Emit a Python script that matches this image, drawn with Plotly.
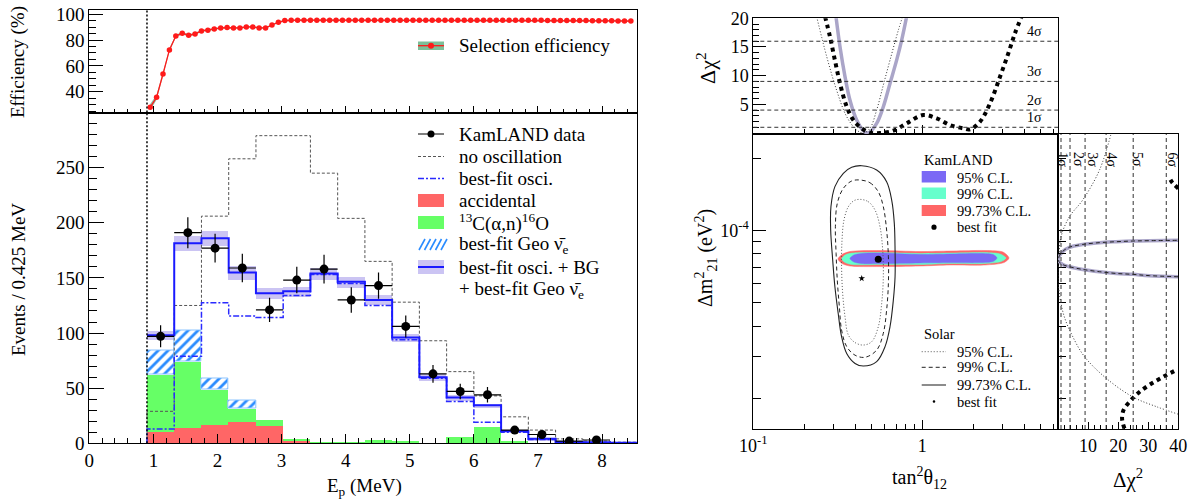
import numpy as np
import plotly.graph_objects as go

W, H = 1191, 503
SERIF = "Liberation Serif"

# ---------------- selection efficiency (top left) ----------------
eff_energy = [0.95, 1.05, 1.15, 1.25, 1.35, 1.45, 1.55, 1.65, 1.75, 1.85,
              1.95, 2.05, 2.15, 2.25, 2.35, 2.45, 2.55, 2.65, 2.75, 2.85,
              2.95, 3.05, 3.15, 3.25, 3.35, 3.45, 3.55, 3.65, 3.75, 3.85,
              3.95, 4.05, 4.15, 4.25, 4.35, 4.45, 4.55, 4.65, 4.75, 4.85,
              4.95, 5.05, 5.15, 5.25, 5.35, 5.45, 5.55, 5.65, 5.75, 5.85,
              5.95, 6.05, 6.15, 6.25, 6.35, 6.45, 6.55, 6.65, 6.75, 6.85,
              6.95, 7.05, 7.15, 7.25, 7.35, 7.45, 7.55, 7.65, 7.75, 7.85,
              7.95, 8.05, 8.15, 8.25, 8.35, 8.45]
eff_value = [27.9, 35.7, 53.7, 72.4, 83.2, 85.3, 83.7, 84.8, 87.1, 87.6,
             88.6, 89.4, 89.7, 89.4, 89.4, 90.2, 90.2, 89.4, 89.4, 91.7,
             93.8, 95.1, 95.4, 95.4, 95.4, 95.4, 95.4, 95.4, 95.4, 95.4,
             95.4, 95.4, 95.4, 95.4, 95.4, 95.4, 95.4, 95.4, 95.4, 95.4,
             95.4, 95.4, 95.4, 95.4, 95.4, 95.4, 95.4, 95.4, 95.4, 95.4,
             95.4, 95.4, 95.3, 95.3, 95.3, 95.3, 95.3, 95.3, 95.3, 95.3,
             95.3, 95.3, 95.2, 95.2, 95.2, 95.2, 95.1, 95.1, 95.1, 95.0,
             95.0, 95.0, 94.9, 94.8, 94.8, 94.7]
eff_err = [2.5, 2.0, 1.6, 1.2, 1.0, 0.9, 0.8, 0.8, 0.7, 0.7,
           0.6, 0.6, 0.6, 0.6, 0.6, 0.6, 0.6, 0.6, 0.6, 0.6,
           0.6, 0.6, 0.6, 0.6, 0.6, 0.6, 0.6, 0.6, 0.6, 0.6,
           0.6, 0.6, 0.6, 0.6, 0.6, 0.6, 0.6, 0.6, 0.6, 0.6,
           0.6, 0.6, 0.6, 0.6, 0.6, 0.6, 0.6, 0.6, 0.6, 0.6,
           0.6, 0.6, 0.6, 0.6, 0.6, 0.6, 0.6, 0.6, 0.6, 0.6,
           0.6, 0.6, 0.6, 0.6, 0.6, 0.6, 0.6, 0.6, 0.6, 0.6,
           0.6, 0.6, 0.6, 0.6, 0.6, 0.6]

THRESHOLD = 0.9  # analysis threshold (MeV)

# ---------------- prompt energy spectrum (bottom left) ----------------
bin_edges = [0.9, 1.325, 1.75, 2.175, 2.6, 3.025, 3.45, 3.875, 4.3, 4.725,
             5.15, 5.575, 6.0, 6.425, 6.85, 7.275, 7.7, 8.125, 8.55]
data_energy = [1.1125, 1.5375, 1.9625, 2.3875, 2.8125, 3.2375, 3.6625, 4.0875,
               4.5125, 4.9375, 5.3625, 5.7875, 6.2125, 6.6375, 7.0625, 7.4875, 7.9125]
data_counts = [97, 191, 177, 159, 121, 148, 158, 130, 143, 106, 63, 47, 44, 12, 8, 2, 3]
data_err = [10, 14, 13, 13, 11, 12, 13, 11.5, 12, 10, 8, 7, 7, 3.5, 3, 1.5, 2]
BIN_HALF = 0.2125

no_osc = [29, 125, 206, 258, 279, 279, 245, 204, 165, 128, 93, 65, 43, 24, 12, 4, 2, 1]
best_fit_osc = [13, 79, 127.5, 115.5, 114, 134, 153, 145, 125, 94, 59, 38, 19, 10, 3.5, 1, 0.5, 0.3]
best_fit_total = [98, 181.5, 186, 155, 136, 138, 154, 146.6, 130, 96, 60, 41.5, 34.5, 11.2, 4.2, 1.2, 1, 0.5]
total_err = [4, 7, 7, 6, 5, 4.5, 5, 5, 4.5, 3.5, 3, 2.5, 2, 1.2, 0.8, 0.5, 0.4, 0.3]
accidental = [10.3, 14.2, 17.3, 19.4, 16.4, 2.7, 0.6, 0.4, 0.3, 0.2, 0.2, 0.2, 0.1, 0.1, 0.1, 0, 0, 0]
c13_alpha_n = [52, 60, 31.5, 12, 5, 1.5, 0.5, 0.5, 3, 2, 0.5, 6, 14.7, 2, 0.5, 0.2, 0.2, 0.2]
geo_nu = [22.2, 28.2, 10, 7.5, 0, 0, 0, 0, 0, 0, 0, 0, 0, 0, 0, 0, 0, 0]

# ---------------- oscillation parameters (right) ----------------
kl_9973_tan2 = [0.317, 0.335, 0.373, 0.562, 0.969, 1.458, 2.35, 3.003, 3.258,
                3.043, 2.35, 1.458, 0.969, 0.562, 0.373, 0.335]
kl_9973_dm2 = [7.62e-5, 7.96e-5, 8.19e-5, 8.27e-5, 8.19e-5, 8.23e-5, 8.27e-5, 8.15e-5, 7.70e-5,
               7.37e-5, 7.20e-5, 7.20e-5, 7.13e-5, 7.09e-5, 7.13e-5, 7.30e-5]
kl_99_tan2 = [0.333, 0.349, 0.384, 0.562, 0.969, 1.458, 2.35, 2.883, 3.128,
              2.923, 2.35, 1.458, 0.969, 0.562, 0.384, 0.349]
kl_99_dm2 = [7.62e-5, 7.92e-5, 8.07e-5, 8.11e-5, 8.04e-5, 8.07e-5, 8.11e-5, 8.00e-5, 7.70e-5,
             7.44e-5, 7.30e-5, 7.30e-5, 7.23e-5, 7.23e-5, 7.23e-5, 7.37e-5]
kl_95_tan2 = [0.373, 0.394, 0.44, 0.562, 0.969, 1.458, 2.195, 2.62, 2.767,
              2.62, 2.195, 1.458, 0.969, 0.562, 0.44, 0.394]
kl_95_dm2 = [7.66e-5, 7.92e-5, 8.04e-5, 8.07e-5, 7.96e-5, 8.00e-5, 8.04e-5, 7.96e-5, 7.70e-5,
             7.44e-5, 7.37e-5, 7.37e-5, 7.34e-5, 7.30e-5, 7.30e-5, 7.41e-5]
kl_best = (0.549, 7.60e-5)

solar_9973_tan2 = [0.438, 0.537, 0.615, 0.659, 0.683, 0.690, 0.690, 0.674, 0.644, 0.602, 0.537, 0.448,
                   0.400, 0.357, 0.333, 0.318, 0.304, 0.295, 0.287, 0.288, 0.304, 0.341, 0.382]
solar_9973_dm2 = [1.866e-4, 1.790e-4, 1.601e-4, 1.342e-4, 1.073e-4, 8.31e-5, 6.43e-5, 5.14e-5, 3.98e-5,
                  3.29e-5, 2.85e-5, 2.73e-5, 2.80e-5, 3.08e-5, 3.62e-5, 4.52e-5, 5.84e-5, 7.55e-5,
                  1.007e-4, 1.259e-4, 1.526e-4, 1.734e-4, 1.837e-4]
solar_99_tan2 = [0.428, 0.490, 0.549, 0.588, 0.615, 0.630, 0.630, 0.615, 0.588, 0.537, 0.458,
                 0.400, 0.357, 0.333, 0.323, 0.314, 0.309, 0.306, 0.314, 0.341, 0.382]
solar_99_dm2 = [1.627e-4, 1.585e-4, 1.454e-4, 1.259e-4, 1.007e-4, 7.79e-5, 6.03e-5, 4.67e-5, 3.74e-5,
                3.18e-5, 2.97e-5, 3.03e-5, 3.29e-5, 3.86e-5, 4.83e-5, 6.23e-5, 8.05e-5, 1.039e-4,
                1.300e-4, 1.502e-4, 1.611e-4]
solar_95_tan2 = [0.428, 0.479, 0.525, 0.562, 0.583, 0.588, 0.575, 0.549, 0.502, 0.448,
                 0.400, 0.365, 0.349, 0.338, 0.333, 0.335, 0.344, 0.365, 0.394]
solar_95_dm2 = [1.351e-4, 1.321e-4, 1.220e-4, 1.039e-4, 8.31e-5, 6.43e-5, 4.98e-5, 3.98e-5, 3.45e-5,
                3.34e-5, 3.42e-5, 3.68e-5, 4.38e-5, 5.48e-5, 7.08e-5, 9.15e-5, 1.108e-4, 1.259e-4,
                1.334e-4]
solar_best = (0.438, 6.33e-5)

# Δχ² profiles versus tan²θ12 (top)
comb_tan2 = [0.3085, 0.326, 0.349, 0.373, 0.409, 0.448, 0.479, 0.537, 0.588, 0.644, 0.705, 0.755, 0.808]
comb_chi2_t = [20.3, 15.0, 9.8, 5.75, 2.26, 0.4, 0.0, 1.68, 4.59, 8.65, 12.7, 16.2, 20.3]
solar_tan2 = [0.237, 0.272, 0.311, 0.357, 0.409, 0.448, 0.490, 0.537, 0.588, 0.644, 0.721, 0.765]
solar_chi2_t = [20.3, 13.3, 7.49, 2.85, 0.52, 0.0, 0.82, 4.0, 8.36, 12.7, 17.9, 20.3]
kl_tan2 = [0.2657, 0.2843, 0.304, 0.326, 0.357, 0.391, 0.4376, 0.490, 0.562, 0.674, 0.808,
           1.014, 1.216, 1.458, 1.749, 1.915, 2.195, 2.516, 2.883, 3.229, 3.536, 3.873]
kl_chi2_t = [20.3, 16.8, 12.7, 8.65, 4.59, 2.26, 0.81, 0.06, 0.0, 0.4, 1.68,
             3.14, 2.56, 1.39, 0.81, 0.64, 1.97, 5.17, 9.81, 13.9, 17.4, 20.3]

# Δχ² profiles versus Δm²21 (right)
comb_dm2 = [6.43e-5, 6.50e-5, 6.58e-5, 6.64e-5, 6.75e-5, 6.90e-5, 7.08e-5, 7.24e-5, 7.55e-5,
            8.18e-5, 8.53e-5, 8.77e-5, 8.92e-5, 9.00e-5, 9.06e-5, 9.09e-5, 9.12e-5]
comb_chi2_m = [40, 30.4, 24.9, 19.3, 13.8, 8.2, 3.8, 1.5, 0, 1.5, 3.8, 8.2, 13.8, 19.3, 24.9, 30.4, 40]
solar_dm2 = [1.72e-5, 1.85e-5, 2.03e-5, 2.43e-5, 2.99e-5, 3.62e-5, 4.38e-5, 5.31e-5, 6.33e-5,
             7.79e-5, 9.44e-5, 1.144e-4, 1.342e-4, 1.79e-4, 2.55e-4]
solar_chi2_m = [40, 32.7, 24.9, 16.0, 8.8, 4.9, 2.1, 0.6, 0, 0.3, 1.0, 3.8, 8.2, 13.8, 17.7]
kl_low_dm2 = [1.50e-5, 1.65e-5, 1.79e-5, 1.94e-5, 2.10e-5, 2.28e-5, 2.46e-5, 2.65e-5]
kl_low_chi2 = [22.1, 21.3, 21.8, 23.8, 26.5, 30.4, 34.9, 39.9]
kl_high_dm2 = [1.50e-4, 1.55e-4, 1.60e-4, 1.65e-4]
kl_high_chi2 = [40, 38.8, 37.8, 37.2]

sigma_levels = [1, 4, 9, 16, 25, 36]
sigma_labels = ["1σ", "2σ", "3σ", "4σ", "5σ", "6σ"]
side_label_pos = [1.5, 6.9, 11.5, 17.7, 26.5, 38.0]
TOP_LABEL_TAN2 = 4.6

# ---------------- colours ----------------
RED = "#ff6666"
GREEN = "#66ff66"
BLUE = "#1a1aff"
LAVENDER = "#cbc4f3"
KL95 = "#7b69f5"
KL99 = "#66ffcc"
KL9973 = "#ff6666"
PROFILE = "#aaa5c8"


def px(x):
    return x / W


def py(y):
    return 1 - y / H


def closed(a):
    return list(a) + [a[0]]


fig = go.Figure()

# ---- efficiency ----
e_lo = np.array(eff_value) - np.array(eff_err)
e_hi = np.array(eff_value) + np.array(eff_err)
fig.add_trace(go.Scatter(x=eff_energy, y=e_lo, mode="lines", line=dict(width=0),
                         xaxis="x", yaxis="y", hoverinfo="skip"))
fig.add_trace(go.Scatter(x=eff_energy, y=e_hi, mode="lines", line=dict(width=0), fill="tonexty",
                         fillcolor="rgba(46,139,87,0.55)", xaxis="x", yaxis="y", hoverinfo="skip"))
fig.add_trace(go.Scatter(x=eff_energy, y=eff_value, mode="lines+markers",
                         line=dict(color="#ff1a1a", width=1.3),
                         marker=dict(color="#ff1a1a", size=5.5), xaxis="x", yaxis="y"))

# ---- spectrum ----
edges = np.array(bin_edges)
centers = (edges[:-1] + edges[1:]) / 2
widths = edges[1:] - edges[:-1]
tot = np.array(best_fit_total)
terr = np.array(total_err)
acc = np.array(accidental)
c13 = np.array(c13_alpha_n)
geo = np.array(geo_nu)

fig.add_trace(go.Bar(x=centers, y=2 * terr, base=tot - terr, width=widths,
                     marker=dict(color=LAVENDER, line=dict(width=0)), xaxis="x2", yaxis="y2"))
fig.add_trace(go.Bar(x=centers, y=acc, base=np.zeros_like(acc), width=widths,
                     marker=dict(color=RED, line=dict(width=0)), xaxis="x2", yaxis="y2"))
fig.add_trace(go.Bar(x=centers, y=c13, base=acc, width=widths,
                     marker=dict(color=GREEN, line=dict(width=0)), xaxis="x2", yaxis="y2"))
gmask = geo > 0
fig.add_trace(go.Bar(x=centers[gmask], y=geo[gmask], base=(acc + c13)[gmask], width=widths[gmask],
                     marker=dict(color="white",
                                 pattern=dict(shape="/", fillmode="replace", fgcolor="#2a8cff",
                                              bgcolor="white", size=7, solidity=0.4),
                                 line=dict(color="#8cc4ff", width=1)),
                     xaxis="x2", yaxis="y2"))


def step(values):
    xs = [bin_edges[0]] + list(bin_edges)
    ys = [0] + list(values) + [values[-1]]
    return xs, ys


sx, sy = step(no_osc)
fig.add_trace(go.Scatter(x=sx, y=sy, mode="lines", line_shape="hv",
                         line=dict(color="#555555", width=1, dash="3px,2px"), xaxis="x2", yaxis="y2"))
sx, sy = step(best_fit_osc)
fig.add_trace(go.Scatter(x=sx, y=sy, mode="lines", line_shape="hv",
                         line=dict(color="#2a2aff", width=1.5, dash="6px,2px,2px,2px"),
                         xaxis="x2", yaxis="y2"))
sx, sy = step(best_fit_total)
fig.add_trace(go.Scatter(x=sx[1:], y=sy[1:], mode="lines", line_shape="hv",
                         line=dict(color=BLUE, width=2), xaxis="x2", yaxis="y2"))
fig.add_trace(go.Scatter(x=data_energy, y=data_counts, mode="markers",
                         marker=dict(color="black", size=9),
                         error_x=dict(type="constant", value=BIN_HALF, color="black", thickness=1.2, width=0),
                         error_y=dict(type="data", array=data_err, color="black", thickness=1.2, width=0),
                         xaxis="x2", yaxis="y2"))

# ---- KamLAND allowed regions ----
for t2, dm, col in [(kl_9973_tan2, kl_9973_dm2, KL9973), (kl_99_tan2, kl_99_dm2, KL99),
                    (kl_95_tan2, kl_95_dm2, KL95)]:
    fig.add_trace(go.Scatter(x=closed(t2), y=closed(dm), mode="lines", fill="toself", fillcolor=col,
                             line=dict(color=col, width=0.5, shape="spline", smoothing=0.8),
                             xaxis="x3", yaxis="y3"))

# ---- solar allowed regions ----
for t2, dm, st in [(solar_95_tan2, solar_95_dm2, dict(color="#555555", width=1, dash="1px,2px")),
                   (solar_99_tan2, solar_99_dm2, dict(color="#222222", width=1, dash="4px,3px")),
                   (solar_9973_tan2, solar_9973_dm2, dict(color="#222222", width=1.1))]:
    fig.add_trace(go.Scatter(x=closed(t2), y=closed(dm), mode="lines",
                             line=dict(shape="spline", smoothing=1.0, **st), xaxis="x3", yaxis="y3"))

fig.add_trace(go.Scatter(x=[kl_best[0]], y=[kl_best[1]], mode="markers",
                         marker=dict(color="black", size=7), xaxis="x3", yaxis="y3"))
fig.add_trace(go.Scatter(x=[solar_best[0]], y=[solar_best[1]], mode="markers",
                         marker=dict(color="black", size=5, symbol="star"), xaxis="x3", yaxis="y3"))

# ---- Δχ² vs tan²θ12 ----
fig.add_trace(go.Scatter(x=comb_tan2, y=comb_chi2_t, mode="lines",
                         line=dict(color=PROFILE, width=3.5, shape="spline"), xaxis="x4", yaxis="y4"))
fig.add_trace(go.Scatter(x=solar_tan2, y=solar_chi2_t, mode="lines",
                         line=dict(color="#333333", width=1, dash="1px,2px", shape="spline"),
                         xaxis="x4", yaxis="y4"))
fig.add_trace(go.Scatter(x=kl_tan2, y=kl_chi2_t, mode="lines",
                         line=dict(color="black", width=4, dash="4px,4px", shape="spline"),
                         xaxis="x4", yaxis="y4"))

# ---- Δχ² vs Δm²21 ----
fig.add_trace(go.Scatter(x=comb_chi2_m, y=comb_dm2, mode="lines",
                         line=dict(color=PROFILE, width=3.5, shape="spline"), xaxis="x5", yaxis="y5"))
fig.add_trace(go.Scatter(x=comb_chi2_m, y=comb_dm2, mode="lines",
                         line=dict(color="#222222", width=1, dash="4px,3px", shape="spline"),
                         xaxis="x5", yaxis="y5"))
fig.add_trace(go.Scatter(x=solar_chi2_m, y=solar_dm2, mode="lines",
                         line=dict(color="#333333", width=1, dash="1px,2px", shape="spline"),
                         xaxis="x5", yaxis="y5"))
for xs, ys in [(kl_low_chi2, kl_low_dm2), (kl_high_chi2, kl_high_dm2)]:
    fig.add_trace(go.Scatter(x=xs, y=ys, mode="lines",
                             line=dict(color="black", width=4, dash="4px,4px", shape="spline"),
                             xaxis="x5", yaxis="y5"))

# ---------------- axes ----------------
TICKFONT = dict(family=SERIF, size=19, color="black")
TICKFONT_R = dict(family=SERIF, size=18, color="black")


def axis(**kw):
    base = dict(showline=True, linecolor="black", linewidth=1, mirror=True, ticks="inside",
                tickcolor="black", showgrid=False, zeroline=False, tickfont=TICKFONT,
                automargin=False)
    base.update(kw)
    return base


def minor(dtick, ticklen):
    return dict(ticks="inside", dtick=dtick, ticklen=ticklen, tickcolor="black", showgrid=False)


LEFT_X = [px(89.3), px(637.3)]
MAIN_X = [px(753.3), px(1058)]
SIDE_X = [px(1058), px(1178.3)]
MAIN_Y = [py(429), py(134)]
LOG_T2 = [-1, 0.803]
LOG_DM = [-4.826, -3.597]

fig.update_layout(
    width=W, height=H, margin=dict(l=0, r=0, t=0, b=0, autoexpand=False),
    paper_bgcolor="white", plot_bgcolor="white", showlegend=False, barmode="overlay", bargap=0,
    xaxis=axis(domain=LEFT_X, range=[0, 8.55], anchor="y", dtick=1, tick0=0, ticklen=7,
               showticklabels=False, minor=minor(0.2, 4)),
    yaxis=axis(domain=[py(112.5), py(10)], range=[23.9, 103.3], anchor="x", dtick=20, tick0=0,
               ticklen=14, minor=minor(5, 7)),
    xaxis2=axis(domain=LEFT_X, range=[0, 8.55], anchor="y2", dtick=1, tick0=0, ticklen=9,
                minor=minor(0.2, 5)),
    yaxis2=axis(domain=[py(443.3), py(112.5)], range=[0, 300], anchor="x2",
                tickmode="array", tickvals=[0, 50, 100, 150, 200, 250], ticklen=15,
                minor=dict(ticks="inside", tick0=0, dtick=10, ticklen=8, tickcolor="black")),
    xaxis3=axis(domain=MAIN_X, type="log", range=LOG_T2, anchor="y3",
                tickmode="array", tickvals=[0.1, 1], ticktext=["10<sup>-1</sup>", "1"],
                ticklen=9, tickfont=TICKFONT_R, minor=minor("D1", 5)),
    yaxis3=axis(domain=MAIN_Y, type="log", range=LOG_DM, anchor="x3",
                tickmode="array", tickvals=[1e-4], ticktext=["10<sup>-4</sup>"],
                ticklen=13, tickfont=TICKFONT_R, minor=minor("D1", 8)),
    xaxis4=axis(domain=MAIN_X, type="log", range=LOG_T2, anchor="y4",
                tickmode="array", tickvals=[0.1, 1], showticklabels=False, ticklen=9,
                minor=minor("D1", 5)),
    yaxis4=axis(domain=[py(134), py(18.3)], range=[-0.17, 20], anchor="x4",
                tickmode="array", tickvals=[5, 10, 15, 20], ticklen=13, tickfont=TICKFONT_R,
                minor=dict(ticks="inside", tick0=0, dtick=1, ticklen=6, tickcolor="black")),
    xaxis5=axis(domain=SIDE_X, range=[0, 40], anchor="y5",
                tickmode="array", tickvals=[10, 20, 30, 40], ticklen=7, tickfont=TICKFONT_R,
                minor=dict(ticks="inside", tick0=0, dtick=2, ticklen=4, tickcolor="black")),
    yaxis5=axis(domain=MAIN_Y, type="log", range=LOG_DM, anchor="x5",
                tickmode="array", tickvals=[1e-4], showticklabels=False, ticklen=13,
                minor=minor("D1", 8)),
)

shapes = []
ann = []

# threshold line through both left panels
for yr in ["y", "y2"]:
    shapes.append(dict(type="line", xref="x" if yr == "y" else "x2", yref=yr + " domain",
                       x0=THRESHOLD, x1=THRESHOLD, y0=0, y1=1,
                       line=dict(color="black", width=1.5, dash="2px,2px")))

# sigma levels
for lvl, lab, pos in zip(sigma_levels, sigma_labels, side_label_pos):
    if lvl <= 16:
        shapes.append(dict(type="line", xref="x4 domain", yref="y4", x0=0, x1=1, y0=lvl, y1=lvl,
                           line=dict(color="#333333", width=1, dash="4px,3px")))
        ann.append(dict(xref="x4", yref="y4", x=np.log10(TOP_LABEL_TAN2), y=lvl, yanchor="bottom",
                        text=lab, showarrow=False, yshift=0,
                        font=dict(family=SERIF, size=14, color="black")))
    shapes.append(dict(type="line", xref="x5", yref="y5 domain", x0=lvl, x1=lvl, y0=0, y1=1,
                       line=dict(color="#333333", width=1, dash="4px,3px")))
    ann.append(dict(xref="x5", yref="y5 domain", x=pos, y=0.945, text=lab, showarrow=False,
                    textangle=90, font=dict(family=SERIF, size=14, color="black")))


def text(x, y, s, size=19, **kw):
    d = dict(xref="paper", yref="paper", x=px(x), y=py(y), text=s, showarrow=False,
             xanchor="left", yanchor="middle", font=dict(family=SERIF, size=size, color="black"))
    d.update(kw)
    ann.append(d)


def key_line(x0, x1, y, color, width, dash="solid"):
    shapes.append(dict(type="line", xref="paper", yref="paper", x0=px(x0), x1=px(x1),
                       y0=py(y), y1=py(y), line=dict(color=color, width=width, dash=dash)))


def key_box(x0, x1, y0, y1, color):
    shapes.append(dict(type="rect", xref="paper", yref="paper", x0=px(x0), x1=px(x1),
                       y0=py(y1), y1=py(y0), fillcolor=color, line=dict(width=0)))


def key_dot(x, y, r, color="black"):
    shapes.append(dict(type="circle", xref="paper", yref="paper", x0=px(x - r), x1=px(x + r),
                       y0=py(y + r), y1=py(y - r), fillcolor=color, line=dict(width=0)))


# efficiency key
key_box(418, 444, 41.5, 50, "#7cbf98")
key_line(418, 444, 45.7, "#ff1a1a", 1.3)
key_dot(431, 45.7, 3, "#ff1a1a")
text(457, 45.5, "Selection efficiency")

# spectrum key
KX0, KX1, TX = 418, 444, 457
key_line(KX0, KX1, 134, "black", 1)
key_dot(431, 134, 3.5)
text(TX, 134, "KamLAND data")
key_line(KX0, KX1, 156.5, "#555555", 1, "3px,2px")
text(TX, 156.5, "no oscillation")
key_line(KX0, KX1, 178.5, "#2a2aff", 1.5, "6px,2px,2px,2px")
text(TX, 178.5, "best-fit osci.")
key_box(KX0, KX1, 194, 207, RED)
text(TX, 200.5, "accidental")
key_box(KX0, KX1, 216, 229, GREEN)
text(TX, 222, "<sup>13</sup>C(α,n)<sup>16</sup>O")
for k in range(5):
    x0 = KX0 + 1 + k * 5.5
    shapes.append(dict(type="line", xref="paper", yref="paper", x0=px(x0), x1=px(x0 + 6),
                       y0=py(250), y1=py(239), line=dict(color="#2a8cff", width=1.6)))
text(TX, 245, "best-fit Geo ν\u0304<sub>e</sub>")
key_box(KX0, KX1, 260, 274, LAVENDER)
key_line(KX0, KX1, 267, BLUE, 2)
text(TX, 267, "best-fit osci. + BG")
text(TX, 290, "+ best-fit Geo ν\u0304<sub>e</sub>")

# KamLAND contour key
text(921.5, 160, "KamLAND", size=14.5)
key_box(921.7, 946, 171, 182.5, KL95)
text(955, 177.5, "95% C.L.", size=14.5)
key_box(921.7, 946, 187.5, 199, KL99)
text(955, 193.5, "99% C.L.", size=14.5)
key_box(921.7, 946, 205, 216, KL9973)
text(955, 210.7, "99.73% C.L.", size=14.5)
key_dot(934, 227.2, 2.6)
text(955, 227.3, "best fit", size=14.5)

# Solar contour key
text(921.5, 334, "Solar", size=14.5)
key_line(921.7, 946, 351.7, "#555555", 1, "1px,2px")
text(955, 351.7, "95% C.L.", size=14.5)
key_line(921.7, 946, 367.3, "#222222", 1, "4px,3px")
text(955, 367.3, "99% C.L.", size=14.5)
key_line(921.7, 946, 385, "#666666", 1.5)
text(955, 385, "99.73% C.L.", size=14.5)
key_dot(934, 401.5, 1.3)
text(955, 401.7, "best fit", size=14.5)

# axis titles
text(18, 62, "Efficiency (%)", size=19, xanchor="center", textangle=-90)
text(18, 280, "Events / 0.425 MeV", size=19, xanchor="center", textangle=-90)
text(364, 487, "E<sub>p</sub> (MeV)", size=19, xanchor="center")
text(706, 68, "Δχ<sup>2</sup>", size=22, xanchor="center", textangle=-90)
text(706, 258, "Δm<sup>2</sup><sub>21</sub> (eV<sup>2</sup>)", size=20, xanchor="center", textangle=-90)
text(920, 478, "tan<sup>2</sup>θ<sub>12</sub>", size=20, xanchor="center")
text(1128, 478, "Δχ<sup>2</sup>", size=21, xanchor="center")

fig.update_layout(shapes=shapes, annotations=ann)
fig.write_html("out.html")
